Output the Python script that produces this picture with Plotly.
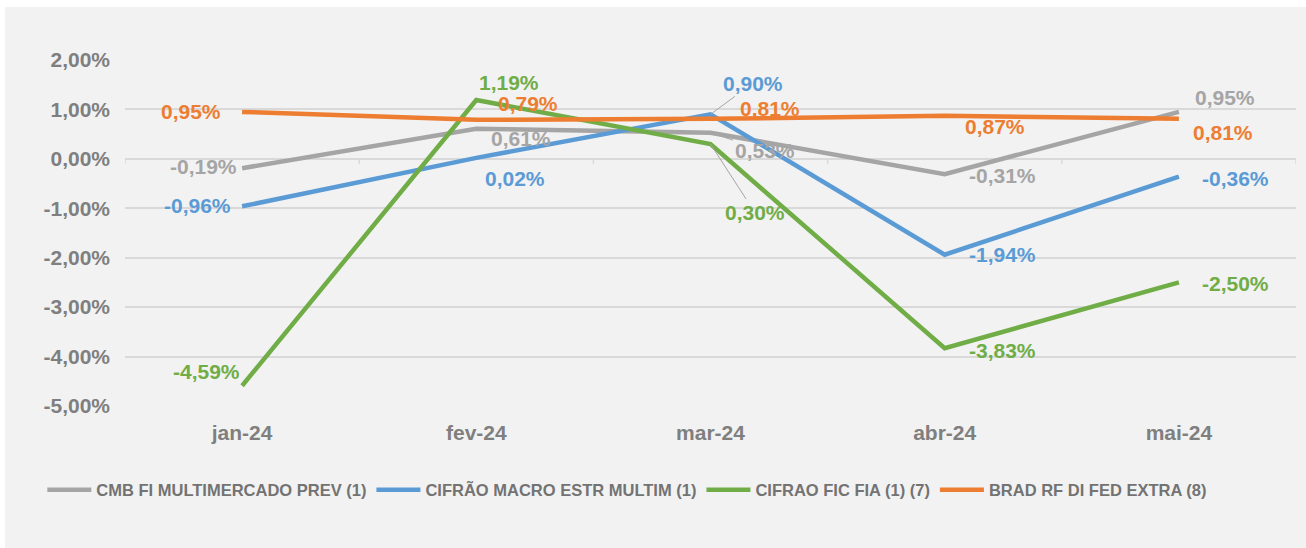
import plotly.graph_objects as go

# ---- data ----
months = ["jan-24", "fev-24", "mar-24", "abr-24", "mai-24"]
series_names = [
    "CMB FI MULTIMERCADO PREV (1)",
    "CIFRÃO MACRO ESTR MULTIM (1)",
    "CIFRAO FIC FIA (1) (7)",
    "BRAD RF DI FED EXTRA (8)",
]
cmb_prev = [-0.19, 0.61, 0.53, -0.31, 0.95]
cifrao_macro = [-0.96, 0.02, 0.90, -1.94, -0.36]
cifrao_fia = [-4.59, 1.19, 0.30, -3.83, -2.50]
brad_rf = [0.95, 0.79, 0.81, 0.87, 0.81]
y_ticks = [-5, -4, -3, -2, -1, 0, 1, 2]

series_values = [cmb_prev, cifrao_macro, cifrao_fia, brad_rf]
colors = ["#A5A5A5", "#5B9BD5", "#70AD47", "#ED7D31"]

# label placement (style): (xanchor, xshift, yshift) or ("arrow", ax, ay)
label_pos = [
    [("right", -3, 2), ("left", 13, -10), ("arrow", 54, 18), ("left", 22, -1), ("left", 14, 14)],
    [("right", -9, 1), ("left", 7, -21), ("arrow", 42, -31), ("left", 22, 0), ("left", 21, -2)],
    [("right", 0, 14), ("left", 1, 18), ("arrow", 44, 68), ("left", 22, -2), ("left", 21, -1)],
    [("right", -19, 0), ("left", 20, 16), ("left", 27, 10), ("left", 18, -11), ("left", 12, -14)],
]

FONT = "Liberation Sans, Arial, sans-serif"
TXT = "#7F7F7F"


def fmt(v):
    return f"{v:.2f}".replace(".", ",") + "%"


fig = go.Figure()
for name, vals, col in zip(series_names, series_values, colors):
    fig.add_trace(go.Scatter(
        x=months, y=vals, name=name, mode="lines",
        line=dict(color=col, width=4.5),
        hoverinfo="skip",
    ))

annotations = []
for vals, col, poss in zip(series_values, colors, label_pos):
    for m, v, p in zip(months, vals, poss):
        base = dict(x=m, y=v, xref="x", yref="y", text=fmt(v),
                    font=dict(family=FONT, size=21, color=col, weight="bold"))
        if p[0] == "arrow":
            base.update(showarrow=True, ax=p[1], ay=p[2], arrowhead=0,
                        arrowwidth=1, arrowcolor="#A5A5A5", standoff=0,
                        xanchor="center", yanchor="middle")
        else:
            base.update(showarrow=False, xanchor=p[0], yanchor="middle",
                        xshift=p[1], yshift=p[2])
        annotations.append(base)

shapes = [
    dict(type="rect", xref="paper", yref="paper", x0=-0.1025, x1=1.01,
         y0=-0.42, y1=1.1533, fillcolor="#F2F2F2", line=dict(width=0),
         layer="below"),
]
for k in range(len(months) + 1):
    shapes.append(dict(type="line", xref="x", yref="y", x0=k - 0.5, x1=k - 0.5,
                       ysizemode="pixel", yanchor=0, y0=0, y1=-5,
                       line=dict(color="#D9D9D9", width=1.5)))

fig.update_layout(
    width=1306, height=548,
    margin=dict(l=125, r=10, t=60, b=142),
    paper_bgcolor="white",
    plot_bgcolor="#F2F2F2",
    showlegend=True,
    legend=dict(
        orientation="h", xref="container", yref="container",
        x=0.0324, y=1 - 490 / 548, xanchor="left", yanchor="middle",
        font=dict(family=FONT, size=16.5, color="#737373", weight="bold"),
        bgcolor="rgba(0,0,0,0)", itemclick=False, itemwidth=44,
    ),
    xaxis=dict(
        type="category", range=[-0.5, 4.5], showgrid=False, zeroline=False,
        showline=False, ticks="", ticklabelstandoff=12,
        tickfont=dict(family=FONT, size=21, color=TXT, weight="bold"),
    ),
    yaxis=dict(
        range=[-5, 2], tickmode="array", tickvals=y_ticks,
        ticktext=[fmt(t) for t in y_ticks],
        showgrid=True, gridcolor="#D9D9D9", gridwidth=1.5,
        zeroline=True, zerolinecolor="#D9D9D9", zerolinewidth=1.5,
        showline=False, ticks="", ticklabelstandoff=14,
        tickfont=dict(family=FONT, size=21, color=TXT, weight="bold"),
    ),
    annotations=annotations,
    shapes=shapes,
)

fig.write_html("out.html", config={"displayModeBar": False},
               post_script="document.body.style.margin='0';")
